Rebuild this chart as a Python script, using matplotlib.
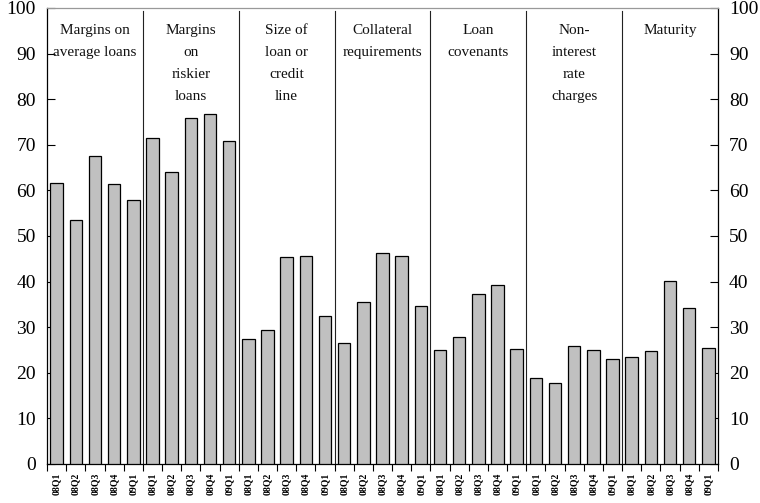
import matplotlib
matplotlib.use("Agg")
import matplotlib.pyplot as plt
import numpy as np

plt.rcParams['font.family'] = ['Liberation Serif', 'DejaVu Serif']

groups = ["Margins on\naverage loans", "Margins\non\nriskier\nloans", "Size of\nloan or\ncredit\nline",
          "Collateral\nrequirements", "Loan\ncovenants", "Non-\ninterest\nrate\ncharges", "Maturity"]
quarters = ["08Q1", "08Q2", "08Q3", "08Q4", "09Q1"]
margins_avg = [61.7, 53.4, 67.5, 61.4, 57.8]
margins_risk = [71.6, 64.0, 75.9, 76.8, 70.8]
size_loan = [27.4, 29.4, 45.4, 45.6, 32.4]
collateral = [26.5, 35.5, 46.3, 45.6, 34.6]
covenants = [25.0, 27.8, 37.3, 39.3, 25.2]
non_interest = [18.8, 17.7, 25.9, 25.0, 23.0]
maturity = [23.5, 24.8, 40.1, 34.2, 25.5]
series = [margins_avg, margins_risk, size_loan, collateral, covenants, non_interest, maturity]

values = [v for s in series for v in s]
labels = [q for _ in series for q in quarters]
x = np.arange(len(values))

fig = plt.figure(figsize=(7.6, 5.03), dpi=100)
ax = fig.add_axes([47/760, 39/503, (718-47)/760, (464-8)/503])

ax.bar(x, values, width=0.65, color='#c0c0c0', edgecolor='black', linewidth=0.9, zorder=3)

ax.set_xlim(-0.5, len(values) - 0.5)
ax.set_ylim(0, 100)

n = len(quarters)
for g in range(1, len(series)):
    ax.plot([g * n - 0.5, g * n - 0.5], [0, 99.4], color='#222222', lw=0.8, zorder=2)
for g, name in enumerate(groups):
    ax.text(g * n + (n - 1) / 2, 96.6, name, ha='center', va='top', fontsize=11,
            linespacing=1.92, color='#111111')

ax.set_xticks(x)
ax.set_xticklabels(labels, rotation=90, fontsize=7, fontweight='bold')
ax.tick_params(axis='x', which='major', length=0, pad=6)
ax.set_xticks(np.arange(-0.5, len(values)), minor=True)
ax.tick_params(axis='x', which='minor', length=5, direction='out', width=0.8)

ax.set_yticks(np.arange(0, 101, 10))
ax.tick_params(axis='y', which='major', direction='in', length=6, width=0.8,
               labelsize=14, left=True, right=True, labelleft=True, labelright=True, pad=8)

for s in ['left', 'right', 'bottom']:
    ax.spines[s].set_color('black')
    ax.spines[s].set_linewidth(0.9)
ax.spines['top'].set_color('#999999')
ax.spines['top'].set_linewidth(0.9)

fig.savefig('out.png', dpi=100)
